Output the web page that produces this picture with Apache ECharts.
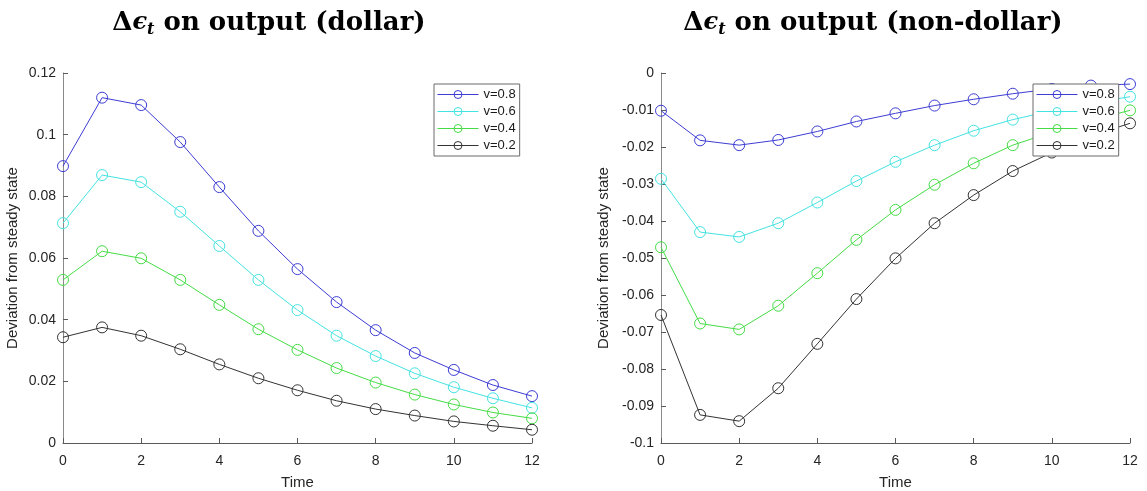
<!DOCTYPE html>
<html lang="en">
<head>
    <meta charset="UTF-8">
    <title>output response</title>
    <script src="https://cdn.jsdelivr.net/npm/echarts@6/dist/echarts.min.js"></script>
    <style>
        body { margin: 0; background: #ffffff; }
        #main { width: 1147px; height: 491px; }
    </style>
</head>
<body>
<div id="main"></div>
<script>
    // time periods
    var times = [0, 1, 2, 3, 4, 5, 6, 7, 8, 9, 10, 11, 12];
    var seriesNames = ['v=0.8', 'v=0.6', 'v=0.4', 'v=0.2'];

    // dollar panel
    var dollar08 = [0.0898, 0.1120, 0.1096, 0.0976, 0.0830, 0.0688, 0.0564, 0.0457, 0.0366, 0.0292, 0.0237, 0.0188, 0.0152];
    var dollar06 = [0.0713, 0.0869, 0.0846, 0.0750, 0.0639, 0.0529, 0.0431, 0.0348, 0.0282, 0.0226, 0.0181, 0.0145, 0.0114];
    var dollar04 = [0.0529, 0.0622, 0.0599, 0.0529, 0.0448, 0.0369, 0.0302, 0.0243, 0.0196, 0.0157, 0.0125, 0.0099, 0.0080];
    var dollar02 = [0.0343, 0.0375, 0.0348, 0.0304, 0.0255, 0.0210, 0.0171, 0.0137, 0.0110, 0.0089, 0.0070, 0.0056, 0.0043];

    // non-dollar panel
    var nondollar08 = [-0.0102, -0.0182, -0.0195, -0.0181, -0.0158, -0.0131, -0.0109, -0.0088, -0.0071, -0.0056, -0.0043, -0.0034, -0.0030];
    var nondollar06 = [-0.0286, -0.0430, -0.0443, -0.0406, -0.0350, -0.0292, -0.0240, -0.0195, -0.0156, -0.0126, -0.0102, -0.0082, -0.0064];
    var nondollar04 = [-0.0471, -0.0677, -0.0693, -0.0629, -0.0541, -0.0451, -0.0370, -0.0302, -0.0244, -0.0195, -0.0160, -0.0128, -0.0101];
    var nondollar02 = [-0.0654, -0.0924, -0.0941, -0.0852, -0.0732, -0.0611, -0.0501, -0.0406, -0.0330, -0.0265, -0.0215, -0.0170, -0.0136];

    var colors = ['#3d3dd4', '#45e2e2', '#45dc45', '#333333'];

    function pairs(vals) {
        var out = [];
        for (var i = 0; i < times.length; i++) {
            out.push([times[i], vals[i]]);
        }
        return out;
    }

    var tickFont = { color: '#262626', fontSize: 14, fontFamily: 'Liberation Sans' };

    function makeSeries(idx, lists) {
        var s = [];
        for (var i = 0; i < lists.length; i++) {
            s.push({
                name: seriesNames[i],
                type: 'line',
                xAxisIndex: idx,
                yAxisIndex: idx,
                data: pairs(lists[i]),
                symbol: 'circle',
                symbolSize: 11,
                lineStyle: { width: 1, color: colors[i] },
                // hollow markers like matlab 'o'
                itemStyle: { color: 'rgba(255,255,255,0)', borderColor: colors[i], borderWidth: 1 },
                z: 2,
                animation: false
            });
        }
        return s;
    }

    function titleRich() {
        var base = { fontFamily: 'DejaVu Serif', fontWeight: 'bold', fontSize: 26, color: '#000' };
        return {
            d: base,
            e: { fontFamily: 'DejaVu Serif', fontStyle: 'italic', fontSize: 24, color: '#000' },
            t: { fontFamily: 'DejaVu Serif', fontStyle: 'italic', fontSize: 16, color: '#000', verticalAlign: 'bottom', padding: [14, 0, 0, 0] },
            b: base
        };
    }

    function xAxisCfg(idx) {
        return {
            type: 'value', gridIndex: idx, min: 0, max: 12, interval: 2,
            name: 'Time', nameLocation: 'middle', nameGap: 32,
            nameTextStyle: { color: '#262626', fontSize: 15, fontFamily: 'Liberation Sans' },
            axisLine: { onZero: false, lineStyle: { color: '#5a5a5a' } },
            axisTick: { inside: true, length: 5, lineStyle: { color: '#5a5a5a' } },
            axisLabel: Object.assign({ margin: 11 }, tickFont),
            splitLine: { show: false }
        };
    }

    function yAxisCfg(idx, min, max, interval, gap) {
        return {
            type: 'value', gridIndex: idx, min: min, max: max, interval: interval,
            name: 'Deviation from steady state', nameLocation: 'middle', nameGap: gap,
            nameTextStyle: { color: '#262626', fontSize: 15, fontFamily: 'Liberation Sans' },
            axisLine: { show: true, onZero: false, lineStyle: { color: '#8a8a8a' } },
            axisTick: { show: true, inside: true, length: 5, lineStyle: { color: '#5a5a5a' } },
            axisLabel: Object.assign({ margin: 7 }, tickFont),
            splitLine: { show: false }
        };
    }

    function legendCfg(left) {
        return {
            data: seriesNames, orient: 'vertical', left: left, top: 84,
            itemWidth: 41, itemHeight: 10, itemGap: 4,
            backgroundColor: '#ffffff', borderColor: '#6a6a6a', borderWidth: 1,
            padding: [4, 4, 4, 3], z: 10,
            itemStyle: { borderWidth: 1 },
            lineStyle: { width: 1 },
            textStyle: { color: '#1a1a1a', fontSize: 13, fontFamily: 'Liberation Sans', padding: [1, 0, 0, 0] }
        };
    }

    var chart = echarts.init(document.getElementById('main'));
    var option = {
        backgroundColor: '#ffffff',
        animation: false,
        title: [
            { text: '{d|Δ}{e|ϵ}{t|t}{b| on output (dollar)}', left: 264, top: 3, textAlign: 'center',
              textStyle: { rich: titleRich() } },
            { text: '{d|Δ}{e|ϵ}{t|t}{b| on output (non-dollar)}', left: 868, top: 3, textAlign: 'center',
              textStyle: { rich: titleRich() } }
        ],
        legend: [legendCfg(434), legendCfg(1033)],
        grid: [
            { left: 63, top: 73, width: 469, height: 370, outerBoundsMode: 'none' },
            { left: 661, top: 73, width: 469, height: 370, outerBoundsMode: 'none' }
        ],
        xAxis: [xAxisCfg(0), xAxisCfg(1)],
        yAxis: [yAxisCfg(0, 0, 0.12, 0.02, 43), yAxisCfg(1, -0.1, 0, 0.01, 50)],
        series: makeSeries(0, [dollar08, dollar06, dollar04, dollar02])
            .concat(makeSeries(1, [nondollar08, nondollar06, nondollar04, nondollar02]))
    };
    chart.setOption(option);
</script>
</body>
</html>
